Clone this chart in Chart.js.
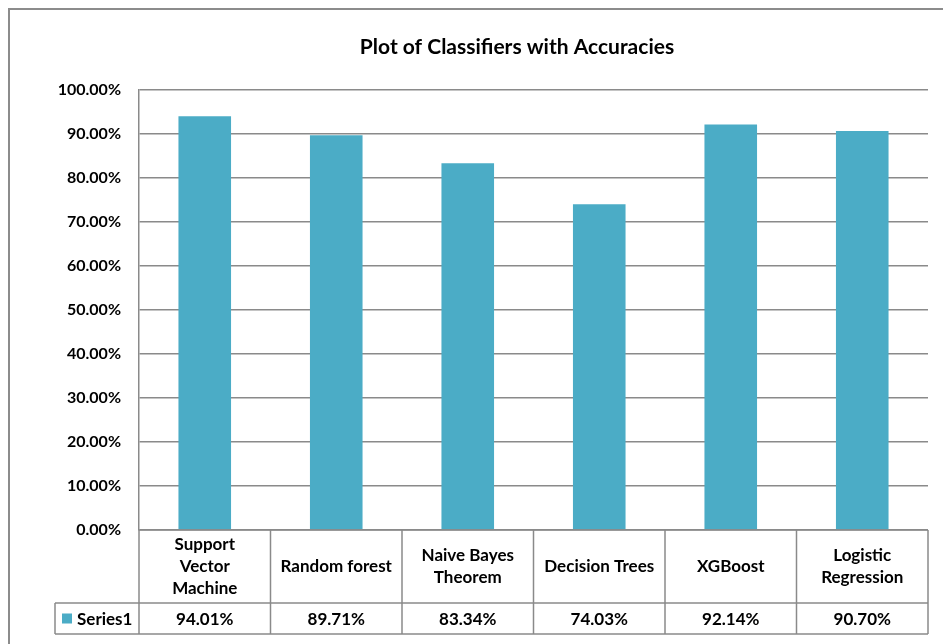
<!DOCTYPE html>
<html>
<head>
<meta charset="utf-8">
<script src="https://cdn.jsdelivr.net/npm/chart.js@4/dist/chart.umd.min.js"></script>
<style>
html,body{margin:0;padding:0;background:#fff;}
#wrap{width:943px;height:644px;position:relative;}
</style>
</head>
<body>
<div id="wrap"><canvas id="c" width="943" height="644"></canvas></div>
<script>
const chartTitle = "Plot of Classifiers with Accuracies";
const categories = ["Support Vector Machine","Random forest","Naive Bayes Theorem","Decision Trees","XGBoost","Logistic Regression"];
const categoryLines = [["Support","Vector","Machine"],["Random forest"],["Naive Bayes","Theorem"],["Decision Trees"],["XGBoost"],["Logistic","Regression"]];
const seriesName = "Series1";
const accuracies = [94.01, 89.71, 83.34, 74.03, 92.14, 90.70];
const yTicks = [0,10,20,30,40,50,60,70,80,90,100];

const FONT = "Lato, 'Liberation Sans', sans-serif";
const BAR = "#4BACC6";
const LINE = "#8a8a8a";

const tablePlugin = {
  id: 'tablePlugin',
  beforeDraw(chart){
    const ctx = chart.ctx;
    ctx.save();
    ctx.fillStyle = '#fff';
    ctx.fillRect(0,0,chart.width,chart.height);
    ctx.strokeStyle = '#8c8c8c';
    ctx.lineWidth = 2;
    ctx.beginPath();
    ctx.moveTo(9, chart.height+5);
    ctx.lineTo(9, 9);
    ctx.lineTo(chart.width+5, 9);
    ctx.stroke();
    // title
    ctx.fillStyle = '#000';
    ctx.font = "bold 21px " + FONT;
    ctx.textAlign = 'center';
    ctx.textBaseline = 'middle';
    ctx.fillText(chartTitle, 517, 47);
    ctx.restore();
  },
  afterDraw(chart){
    const ctx = chart.ctx;
    const x = chart.scales.x;
    const area = chart.chartArea;
    const top = area.bottom;
    const mid = top + 73;
    const bot = top + 104;
    const legendLeft = 55;
    const n = categories.length;
    const edges = [];
    for (let i=0;i<=n;i++){
      if (i===0) edges.push(area.left);
      else if (i===n) edges.push(area.right);
      else edges.push((x.getPixelForValue(i-1)+x.getPixelForValue(i))/2);
    }
    ctx.save();
    ctx.strokeStyle = LINE;
    ctx.lineWidth = 1.5;
    ctx.beginPath();
    ctx.moveTo(area.left, top); ctx.lineTo(area.right, top);
    ctx.moveTo(legendLeft, mid); ctx.lineTo(area.right, mid);
    ctx.moveTo(legendLeft, bot); ctx.lineTo(area.right, bot);
    edges.forEach(e=>{ ctx.moveTo(e, top); ctx.lineTo(e, bot); });
    ctx.moveTo(legendLeft, mid); ctx.lineTo(legendLeft, bot);
    ctx.stroke();

    ctx.fillStyle = '#000';
    ctx.font = "bold 17px " + FONT;
    ctx.textAlign = 'center';
    ctx.textBaseline = 'middle';
    const lh = 22;
    for (let i=0;i<n;i++){
      const cx = x.getPixelForValue(i);
      const lines = categoryLines[i];
      const cy = (top+mid)/2;
      lines.forEach((t,j)=>{
        ctx.fillText(t, cx, cy + (j-(lines.length-1)/2)*lh);
      });
      ctx.fillText(accuracies[i].toFixed(2)+'%', cx, (mid+bot)/2 + 1);
    }
    ctx.fillStyle = BAR;
    ctx.fillRect(62, (mid+bot)/2 - 5, 10, 10);
    ctx.fillStyle = '#000';
    ctx.textAlign = 'left';
    ctx.fillText(seriesName, 77, (mid+bot)/2 + 1);
    ctx.restore();
  }
};

new Chart(document.getElementById('c'), {
  type: 'bar',
  data: {
    labels: categories,
    datasets: [{
      label: seriesName,
      data: accuracies,
      backgroundColor: BAR,
      borderWidth: 0,
      barPercentage: 0.4,
      categoryPercentage: 1.0
    }]
  },
  options: {
    responsive: false,
    animation: false,
    devicePixelRatio: 1,
    layout: { padding: { left: 0, right: 15, top: 90, bottom: 114 } },
    plugins: {
      legend: { display: false },
      tooltip: { enabled: false },
      title: { display: false }
    },
    scales: {
      x: { display: false },
      y: {
        min: 0,
        max: 100,
        afterFit(scale){ scale.width = 139; },
        afterBuildTicks(scale){ scale.ticks = yTicks.map(v=>({value:v})); },
        ticks: {
          color: '#000',
          font: { family: FONT, size: 16, weight: 'bold' },
          padding: 18,
          callback: v => v.toFixed(2) + '%'
        },
        grid: { color: LINE, lineWidth: 1.5, drawTicks: false },
        border: { display: true, color: LINE, width: 1.5 }
      }
    }
  },
  plugins: [tablePlugin]
});
</script>
</body>
</html>
